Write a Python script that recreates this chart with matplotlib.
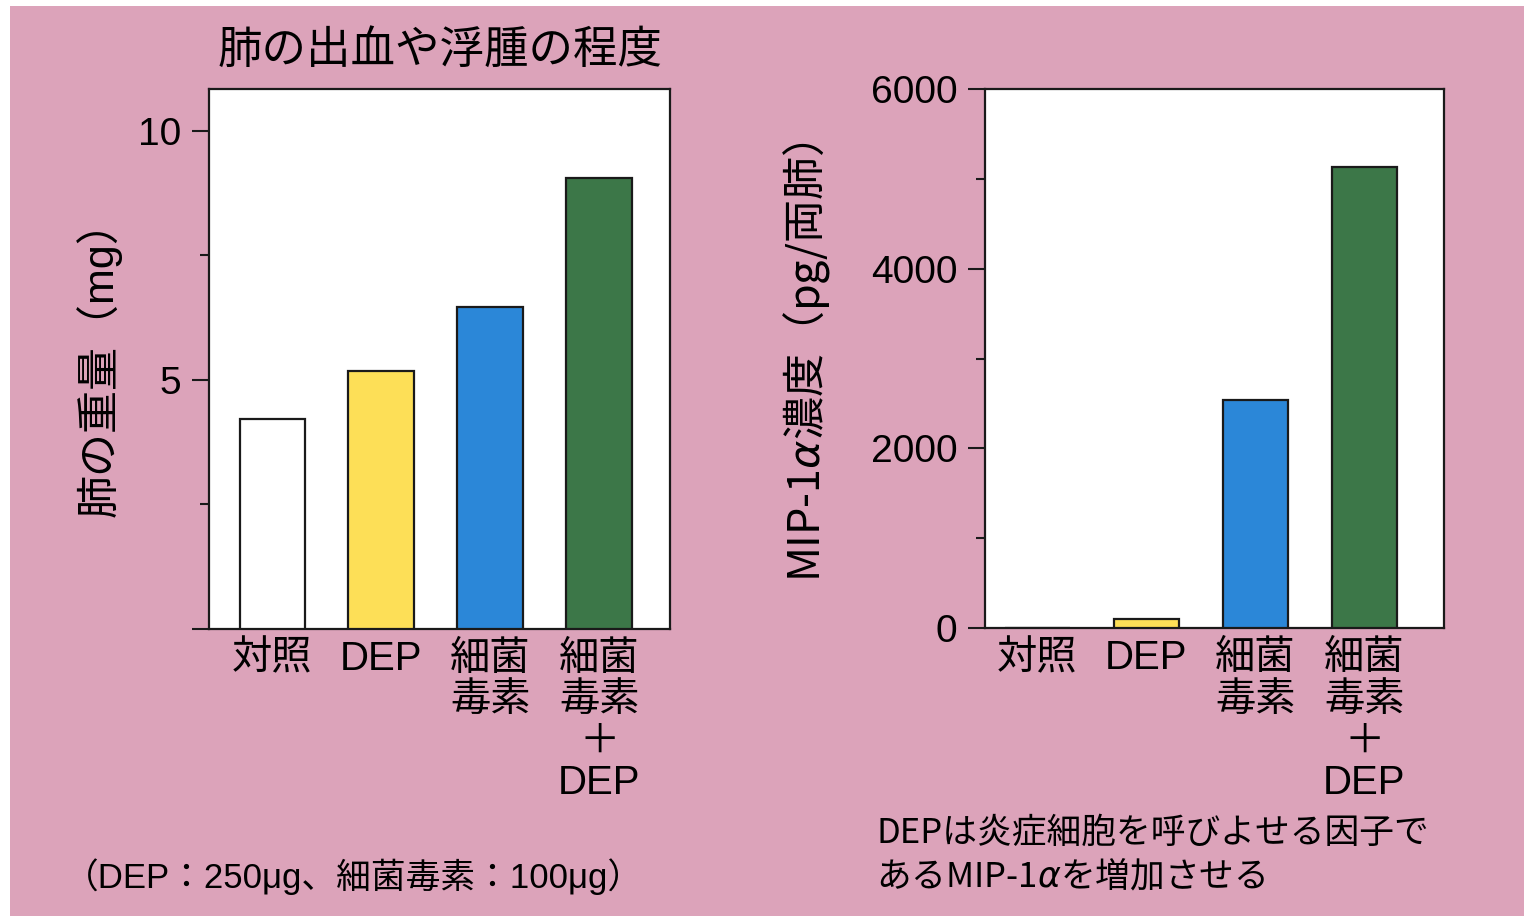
import matplotlib
matplotlib.use("Agg")
import matplotlib.pyplot as plt
from matplotlib.patches import Rectangle

plt.rcParams["font.family"] = ["Liberation Sans", "Noto Sans CJK JP"]
plt.rcParams["mathtext.fontset"] = "dejavusans"

# ---- data -------------------------------------------------------------
groups = ["対照", "DEP", "細菌\n毒素", "細菌\n毒素\n＋\nDEP"]
lung_weight = [4.2, 5.18, 6.45, 9.05]      # mg
mip1a = [0, 100, 2540, 5130]               # pg / both lungs
bar_colors = ["#ffffff", "#fddf57", "#2b87d8", "#3c7748"]

weight_ticks = [0, 5, 10]
weight_ticklabels = ["", "5", "10"]
weight_minor = [2.5, 7.5]
mip_ticks = [0, 2000, 4000, 6000]
mip_ticklabels = ["0", "2000", "4000", "6000"]
mip_minor = [1000, 3000, 5000]

title_left = "肺の出血や浮腫の程度"
ylabel_left = "肺の重量（mg）"
ylabel_right = r"MIP-1$\alpha$濃度（pg/両肺）"
note_left = "（DEP：250μg、細菌毒素：100μg）"
note_right = ["DEPは炎症細胞を呼びよせる因子で", r"あるMIP-1$\alpha$を増加させる"]

# ---- style ------------------------------------------------------------
PINK = "#dca3ba"
INK = "#1a1a1a"
W, H = 1524, 916

fig = plt.figure(figsize=(W / 100, H / 100), dpi=100, facecolor="white")
fig.patches.append(Rectangle((10 / W, 0), 1, (H - 6) / H, transform=fig.transFigure,
                             facecolor=PINK, edgecolor="none", zorder=-10))


def px_axes(x0, x1, y0, y1):
    return fig.add_axes([x0 / W, 1 - y1 / H, (x1 - x0) / W, (y1 - y0) / H])


def style_axes(ax, ticks, ticklabels, minor, ylim, xlim, values):
    x = range(len(values))
    ax.bar(x, values, width=0.6, color=bar_colors, edgecolor=INK, linewidth=1.6, zorder=3)
    ax.set_facecolor("white")
    ax.set_xlim(*xlim)
    ax.set_ylim(*ylim)
    ax.set_yticks(ticks)
    ax.set_yticklabels(ticklabels)
    ax.set_yticks(minor, minor=True)
    ax.set_xticks(list(x))
    ax.set_xticklabels(groups, linespacing=1.12)
    ax.tick_params(axis="y", which="major", direction="out", length=12, width=1.5,
                   color=INK, labelsize=28, pad=8)
    ax.tick_params(axis="y", which="minor", direction="out", length=6.5, width=1.5, color=INK)
    ax.tick_params(axis="x", length=0, labelsize=29, pad=8)
    for s in ax.spines.values():
        s.set_color(INK)
        s.set_linewidth(1.6)


axL = px_axes(209, 670, 89, 628.5)
style_axes(axL, weight_ticks, weight_ticklabels, weight_minor, (0, 10.84), (-0.58, 3.65), lung_weight)

axR = px_axes(985, 1444, 89, 628)
style_axes(axR, mip_ticks, mip_ticklabels, mip_minor, (0, 6000), (-0.48, 3.73), mip1a)

# ---- texts ------------------------------------------------------------
fig.text(440 / W, 1 - 51 / H, title_left, ha="center", va="center", fontsize=32)
fig.text(99 / W, 1 - 358 / H, ylabel_left, rotation=90, ha="center", va="center", fontsize=31)
fig.text(806 / W, 1 - 362 / H, ylabel_right, rotation=90, ha="center", va="center",
         fontsize=31, family="Noto Sans CJK JP")
fig.text(64 / W, 1 - 877 / H, note_left, ha="left", va="center", fontsize=25)
fig.text(876 / W, 1 - 833 / H, note_right[0], ha="left", va="center", fontsize=25,
         family="Noto Sans CJK JP")
fig.text(876 / W, 1 - 877 / H, note_right[1], ha="left", va="center", fontsize=25,
         family="Noto Sans CJK JP")

fig.savefig("out.png", dpi=100, facecolor=fig.get_facecolor())
